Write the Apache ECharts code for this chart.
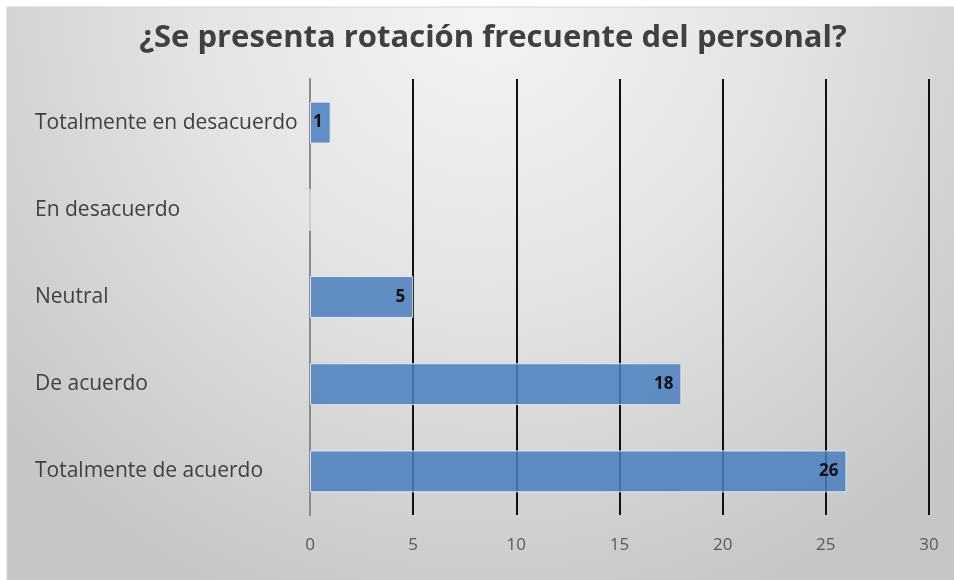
<!DOCTYPE html>
<html>
<head>
<meta charset="utf-8">
<script src="https://cdn.jsdelivr.net/npm/echarts@6/dist/echarts.min.js"></script>
<style>
  html, body { margin: 0; padding: 0; background: #fff; }
  #chart { width: 954px; height: 580px; }
</style>
</head>
<body>
<div id="chart"></div>
<script>
var categorias = ['Totalmente de acuerdo', 'De acuerdo', 'Neutral', 'En desacuerdo', 'Totalmente en desacuerdo'];
var valores = [26, 18, 5, 0, 1];
var titulo = '¿Se presenta rotación frecuente del personal?';

var myChart = echarts.init(document.getElementById('chart'));
var option = {
	animation: false,
	backgroundColor: '#ffffff',
	graphic: [{
		type: 'rect',
		z: -10,
		shape: { x: 7, y: 7, width: 960, height: 580 },
		style: {
			fill: {
				type: 'radial',
				x: 0.5, y: 0, r: 1.1,
				colorStops: [
					{ offset: 0, color: '#f4f4f4' },
					{ offset: 0.45, color: '#e4e4e4' },
					{ offset: 1, color: '#c6c6c6' }
				]
			},
			stroke: '#d4d4d4',
			lineWidth: 1
		}
	}],
	title: {
		text: titulo,
		left: 488,
		textAlign: 'center',
		top: 18,
		textStyle: {
			fontFamily: 'Open Sans',
			fontWeight: 'bold',
			fontSize: 31,
			color: '#404040'
		}
	},
	grid: {
		left: 310,
		right: 25,
		top: 79,
		bottom: 65
	},
	xAxis: {
		type: 'value',
		min: 0,
		max: 30,
		interval: 5,
		axisLine: { show: false },
		axisTick: { show: false },
		splitLine: { show: true, lineStyle: { color: '#111', width: 2 } },
		axisLabel: {
			margin: 22,
			fontFamily: 'Open Sans',
			fontSize: 17,
			color: '#595959'
		}
	},
	yAxis: {
		type: 'category',
		data: categorias,
		axisLine: { show: true, lineStyle: { color: '#8a8a8a', width: 2 } },
		axisTick: { show: false },
		axisLabel: {
			align: 'left',
			margin: 275,
			fontFamily: 'Open Sans',
			fontSize: 21,
			color: '#404040'
		}
	},
	series: [{
		type: 'bar',
		data: valores,
		barWidth: '48%',
		z: 3,
		itemStyle: {
			color: 'rgba(72,126,190,0.85)',
			borderColor: 'rgba(230,236,245,0.9)',
			borderWidth: 1
		},
		label: {
			show: true,
			position: 'insideRight',
			offset: [-3, 0],
			fontFamily: 'Open Sans',
			fontWeight: 'bold',
			fontSize: 17,
			color: '#111',
			formatter: function (p) { return p.value === 0 ? '' : p.value; }
		}
	}]
};
myChart.setOption(option, true);
</script>
</body>
</html>
